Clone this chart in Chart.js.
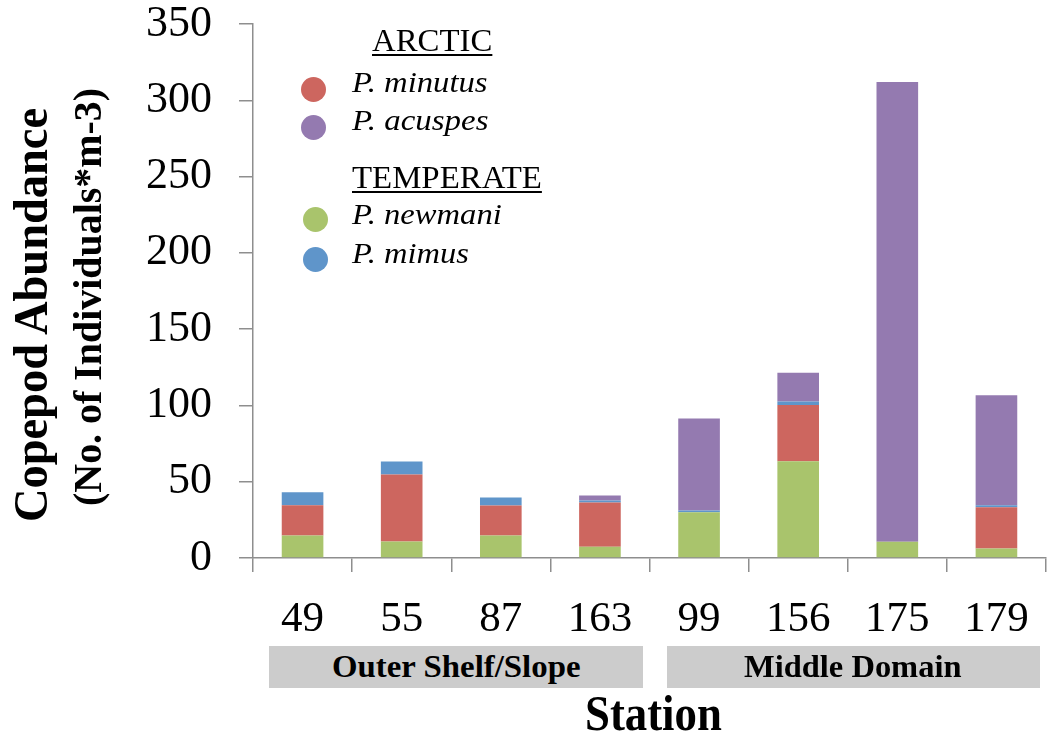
<!DOCTYPE html>
<html>
<head>
<meta charset="utf-8">
<script src="https://cdn.jsdelivr.net/npm/chart.js@4.4.0/dist/chart.umd.min.js"></script>
<style>
  body { margin: 0; background: #fff; }
  #wrap { position: relative; width: 1047px; height: 740px; overflow: hidden; }
  #wrap canvas { position: absolute; left: 0; top: 0; }
  .txt { position: absolute; white-space: nowrap; line-height: 1; color: #000; font-family: "Liberation Serif", "Times New Roman", serif; }
  .dot { position: absolute; width: 25px; height: 25px; border-radius: 50%; }
  .box { position: absolute; top: 646px; height: 42px; background: #cccccc; }
</style>
</head>
<body>
<div id="wrap">
  <canvas id="c" width="1047" height="740"></canvas>
  <div class="box" style="left:269px;width:374px;"></div>
  <div class="box" style="left:667px;width:373px;"></div>
</div>
<script>
// 站点与分组
const stations = ['49', '55', '87', '163', '99', '156', '175', '179'];
const groups = ['Outer Shelf/Slope', 'Middle Domain'];

// 各物种丰度（个体数/m3）
const newmani = [14.7, 10.8, 14.7, 7.3, 30.0, 63.4, 10.6, 6.2];
const minutus = [19.9, 43.9, 19.7, 29.0, 0, 36.9, 0, 27.1];
const mimus   = [8.5, 8.5, 5.2, 1.4, 1.1, 2.2, 0, 1.3];
const acuspes = [0, 0, 0, 3.2, 60.3, 19.0, 301.4, 72.0];

const yTicks = [0, 50, 100, 150, 200, 250, 300, 350];

const GREEN = '#a9c46c', RED = '#cd665f', BLUE = '#5f95ca', PURPLE = '#947ab0';
const AXIS = '#8e8e8e';

new Chart(document.getElementById('c'), {
    type: 'bar',
    data: {
        labels: stations,
        datasets: [
            { label: 'P. newmani', data: newmani, backgroundColor: GREEN },
            { label: 'P. minutus', data: minutus, backgroundColor: RED },
            { label: 'P. mimus', data: mimus, backgroundColor: BLUE },
            { label: 'P. acuspes', data: acuspes, backgroundColor: PURPLE }
        ]
    },
    options: {
        responsive: false,
        animation: false,
        devicePixelRatio: 1,
        barPercentage: 0.42,
        categoryPercentage: 1,
        layout: { padding: { top: 24, right: 1, left: 0, bottom: 0 } },
        plugins: { legend: { display: false }, tooltip: { enabled: false } },
        scales: {
            x: {
                stacked: true,
                offset: true,
                border: { color: AXIS, width: 1.5 },
                grid: { display: true, drawOnChartArea: false, drawTicks: true, tickLength: 14, color: AXIS, lineWidth: 1.5, offset: true },
                ticks: { color: '#000', padding: 26, font: { family: 'Liberation Serif', size: 43, lineHeight: 1 } },
                afterFit: function(s) { s.height = 182; s.paddingLeft = 0; s.paddingRight = 0; }
            },
            y: {
                stacked: true,
                min: 0,
                max: 350,
                border: { color: AXIS, width: 1.5 },
                grid: { display: true, drawOnChartArea: false, drawTicks: true, tickLength: 14, color: AXIS, lineWidth: 1.5 },
                afterBuildTicks: function(s) { s.ticks = yTicks.map(v => ({ value: v })); },
                ticks: { color: '#000', padding: 27, font: { family: 'Liberation Serif', size: 44, lineHeight: 1 } },
                afterFit: function(s) { s.width = 253; s.paddingTop = 0; s.paddingBottom = 0; }
            }
        }
    }
});

// 图外文字：图例、轴标题、分组框
const wrap = document.getElementById('wrap');

function addText(str, opt) {
    const el = document.createElement('div');
    el.className = 'txt';
    el.textContent = str;
    el.style.fontSize = opt.size + 'px';
    if (opt.bold) el.style.fontWeight = 'bold';
    if (opt.italic) el.style.fontStyle = 'italic';
    if (opt.underline) {
        el.style.textDecoration = 'underline';
        el.style.textDecorationThickness = '2px';
        el.style.textUnderlineOffset = '3px';
    }
    wrap.appendChild(el);
    const w = el.offsetWidth;
    const k = opt.len ? opt.len / w : 1;
    if (opt.rot) {
        el.style.left = (opt.cx - w / 2) + 'px';
        el.style.top = (opt.cy - el.offsetHeight / 2) + 'px';
        el.style.transform = 'rotate(-90deg) scaleX(' + k + ')';
    } else if (opt.cx !== undefined) {
        el.style.left = (opt.cx - w / 2) + 'px';
        el.style.top = (opt.base - 0.8375 * opt.size) + 'px';
        el.style.transform = 'scaleX(' + k + ')';
    } else {
        el.style.left = opt.x + 'px';
        el.style.top = (opt.base - 0.8375 * opt.size) + 'px';
        el.style.transformOrigin = 'left center';
        el.style.transform = 'scaleX(' + k + ')';
    }
    return el;
}

function addDot(color, cx, cy) {
    const d = document.createElement('div');
    d.className = 'dot';
    d.style.background = color;
    d.style.left = (cx - 12.5) + 'px';
    d.style.top = (cy - 12.5) + 'px';
    wrap.appendChild(d);
}

function drawOverlay() {
    // 图例
    addText('ARCTIC', { size: 32, underline: true, x: 372, base: 51, len: 120 });
    addDot(RED, 313, 89);
    addText('P. minutus', { size: 30, italic: true, x: 352, base: 92, len: 135 });
    addDot(PURPLE, 313, 127);
    addText('P. acuspes', { size: 30, italic: true, x: 352, base: 130, len: 136 });
    addText('TEMPERATE', { size: 32, underline: true, x: 352, base: 188, len: 190 });
    addDot(GREEN, 315, 219);
    addText('P. newmani', { size: 30, italic: true, x: 352, base: 224, len: 150 });
    addDot(BLUE, 315, 259);
    addText('P. mimus', { size: 30, italic: true, x: 352, base: 263, len: 117 });

    // y 轴标题（两行）
    addText('Copepod Abundance', { size: 48, bold: true, rot: true, cx: 31, cy: 315, len: 414 });
    addText('(No. of Individuals*m-3)', { size: 40, bold: true, rot: true, cx: 88, cy: 297, len: 418 });

    // 分组与 x 轴标题
    addText(groups[0], { size: 31, bold: true, cx: 456, base: 677, len: 249 });
    addText(groups[1], { size: 31, bold: true, cx: 853, base: 677, len: 218 });
    addText('Station', { size: 50, bold: true, cx: 653, base: 730, len: 137 });
}

if (document.fonts && document.fonts.ready) {
    document.fonts.ready.then(drawOverlay);
} else {
    drawOverlay();
}
</script>
</body>
</html>
